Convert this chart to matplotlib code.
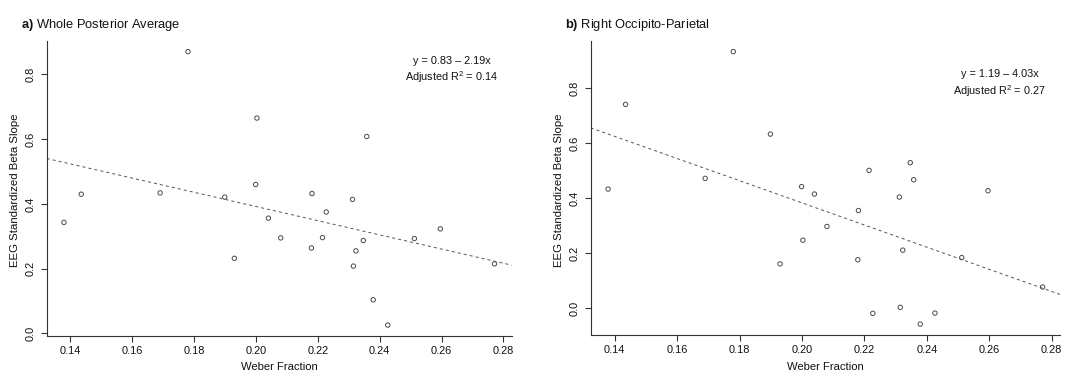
import numpy as np
import matplotlib
matplotlib.use("Agg")
import matplotlib.pyplot as plt

plt.rcParams['font.family'] = ['Liberation Sans', 'DejaVu Sans']
plt.rcParams['mathtext.fontset'] = 'custom'
plt.rcParams['mathtext.rm'] = 'Liberation Sans'
plt.rcParams['mathtext.it'] = 'Liberation Sans:italic'
plt.rcParams['mathtext.bf'] = 'Liberation Sans:bold'
plt.rcParams['lines.scale_dashes'] = False

# ---- data ----
weber = [0.1379, 0.1435, 0.1780, 0.1690, 0.1899, 0.1930, 0.1999, 0.2003,
         0.2040, 0.2080, 0.2181, 0.2179, 0.2215, 0.2227, 0.2312, 0.2315,
         0.2323, 0.2347, 0.2358, 0.2379, 0.2426, 0.2512, 0.2596, 0.2771]
posterior = [0.343, 0.430, 0.870, 0.434, 0.421, 0.232, 0.460, 0.665,
             0.356, 0.295, 0.432, 0.264, 0.296, 0.375, 0.414, 0.208,
             0.255, 0.287, 0.608, 0.104, 0.026, 0.293, 0.323, 0.215]
right_op = [0.434, 0.742, 0.934, 0.473, 0.634, 0.162, 0.443, 0.248,
            0.416, 0.298, 0.356, 0.177, 0.502, -0.018, 0.405, 0.004,
            0.212, 0.530, 0.468, -0.057, -0.017, 0.185, 0.428, 0.078]
fit_a = (0.83, -2.19)
fit_b = (1.19, -4.03)
r2_a = "0.14"
r2_b = "0.27"
titles = ["a)", "b)"]
subtitles = ["Whole Posterior Average", "Right Occipito-Parietal"]
xticks = [0.14, 0.16, 0.18, 0.20, 0.22, 0.24, 0.26, 0.28]
yticks_a = [0.0, 0.2, 0.4, 0.6, 0.8]
yticks_b = [0.0, 0.2, 0.4, 0.6, 0.8]

W, H = 1075, 372
fig = plt.figure(figsize=(W / 100, H / 100), dpi=100)


def px_rect(x0, y_top, x1, y_bot):
    return [x0 / W, 1 - y_bot / H, (x1 - x0) / W, (y_bot - y_top) / H]


def rlim(v):
    lo, hi = min(v), max(v)
    r = hi - lo
    return lo - 0.04 * r, hi + 0.04 * r


panels = [
    dict(rect=px_rect(46.7, 40.7, 511.7, 336), y=posterior, fit=fit_a, r2=r2_a,
         yt=yticks_a, title_x=21, ylab_x=15, xlab_x=279, ann_x=452, ann_y=(61, 77)),
    dict(rect=px_rect(590.7, 40.7, 1060, 335), y=right_op, fit=fit_b, r2=r2_b,
         yt=yticks_b, title_x=565, ylab_x=559, xlab_x=825, ann_x=999.6, ann_y=(74, 91)),
]

col = '#333333'
for i, p in enumerate(panels):
    ax = fig.add_axes(p['rect'])
    ax.scatter(weber, p['y'], s=10, facecolors='none', edgecolors='#4a4a4a', linewidths=0.7, zorder=3)
    xl = rlim(weber)
    yl = rlim(p['y'])
    xs = np.array(xl)
    ax.plot(xs, p['fit'][0] + p['fit'][1] * xs, color='#555555', lw=0.7,
            linestyle=(0, (2.2, 2.2)))
    ax.set_xlim(*xl)
    ax.set_ylim(*yl)
    ax.set_xticks(xticks)
    ax.set_xticklabels([f"{t:.2f}" for t in xticks])
    ax.set_yticks(p['yt'])
    ax.set_yticklabels([f"{t:.1f}" for t in p['yt']], rotation=90, va='center')
    for s in ['top', 'right']:
        ax.spines[s].set_visible(False)
    for s in ['left', 'bottom']:
        ax.spines[s].set_color(col)
        ax.spines[s].set_linewidth(0.8)
    ax.tick_params(axis='both', direction='out', length=4, width=0.8, color=col,
                   labelsize=7.9, labelcolor='#111111')
    ax.tick_params(axis='x', pad=3.5)
    ax.tick_params(axis='y', pad=4)
    # titles
    fig.text(p['title_x'] / W, 1 - 25 / H,
             r'$\bf{' + titles[i] + '}$ ' + subtitles[i],
             fontsize=9.3, ha='left', va='center', color='#111111')
    fig.text(p['ylab_x'] / W, 1 - 190 / H, 'EEG Standardized Beta Slope',
             rotation=90, fontsize=8.2, ha='center', va='center', color='#111111')
    fig.text(p['xlab_x'] / W, 1 - 367 / H, 'Weber Fraction',
             fontsize=8.1, ha='center', va='center', color='#111111')
    a, b = p['fit']
    fig.text(p['ann_x'] / W, 1 - p['ann_y'][0] / H,
             f"y = {a:.2f} \u2013 {abs(b):.2f}x", fontsize=7.8, ha='center', va='center',
             color='#111111')
    fig.text(p['ann_x'] / W, 1 - p['ann_y'][1] / H,
             r'Adjusted R$^2$ = ' + p['r2'], fontsize=7.8, ha='center', va='center',
             color='#111111')

fig.savefig('out.png', dpi=100)
